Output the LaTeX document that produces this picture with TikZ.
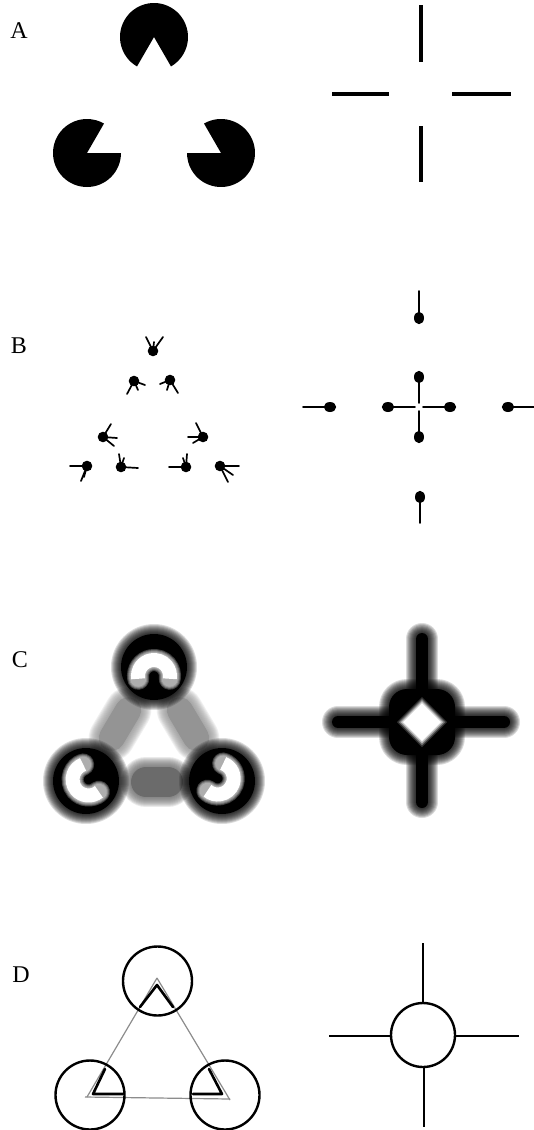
\documentclass[tikz,border=0pt]{standalone}
\usepackage{fontspec}
\setmainfont{Liberation Serif}
\usetikzlibrary{calc}
\tikzset{
  panellabel/.style={font=\fontsize{24}{24}\selectfont, inner sep=0pt},
  bar/.style={line width=4.5pt},
  vec/.style={line width=1.7pt, line cap=round},
  thinedge/.style={draw=black!45, line width=1.2pt},
  thickedge/.style={line width=2.6pt, line cap=round, line join=round},
  ringline/.style={line width=2.4pt},
  crossline/.style={line width=2pt}
}
% soft (blurred) stroke: #1 options, #2 core width, #3 path
\newcommand\softstroke[3]{%
  \foreach \e in {2,4,...,20}{%
    \pgfmathsetmacro\mylw{#2+\e}%
    \draw[#1,line width=\mylw pt,opacity=0.14,line cap=round,line join=round] #3;}%
  \draw[#1,line width=#2 pt,line cap=round,line join=round] #3;}
% soft (blurred) fill: #1 options, #2 path
\newcommand\softfill[2]{%
  \foreach \e in {2,4,...,20}{%
    \draw[#1,line width=\e pt,opacity=0.14,line join=round] #2;}%
  \fill[#1] #2;}
% soft white stroke: #1 core width, #2 path
\newcommand\softwhite[2]{%
  \foreach \e in {2,4,...,8}{%
    \pgfmathsetmacro\mylw{#1+\e}%
    \draw[white,line width=\mylw pt,opacity=0.25,line cap=round] #2;}%
  \draw[white,line width=#1 pt,line cap=butt] #2;}
% vector-field point: x, y, list of dx/dy
\newcommand\fieldpt[3]{%
  \fill (#1,#2) circle (5.3);
  \foreach \dx/\dy in {#3}{\draw[vec] (#1,#2) -- ++(\dx,\dy);}}
\begin{document}
\begin{tikzpicture}[x=1pt,y=-1pt]
\useasboundingbox (0,0) rectangle (534,1130);
\fill[white] (0,0) rectangle (534,1130);

% ---------- labels
\node[panellabel] (labA) at (19,31) {A};
\node[panellabel] (labB) at (19,346) {B};
\node[panellabel] (labC) at (20,660) {C};
\node[panellabel] (labD) at (21,975) {D};

% ---------- A: Kanizsa pacmen
\fill (154,37) -- ++(120:34) arc[start angle=120,end angle=420,radius=34] -- cycle;
\fill (87,153) -- ++(0:34) arc[start angle=0,end angle=300,radius=34] -- cycle;
\fill (221,153) -- ++(240:34) arc[start angle=240,end angle=540,radius=34] -- cycle;
% A: cross of bars
\draw[bar] (421,5) -- (421,62);
\draw[bar] (421,126) -- (421,182);
\draw[bar] (332,94) -- (389,94);
\draw[bar] (452,94) -- (511,94);

% ---------- B left: vector field
\fieldpt{153}{351}{-7/-14,10/-14,1/-9}
\fieldpt{134}{381}{-7/13,11/4,4/9}
\fieldpt{170}{380}{-10/4,8/13,-3/10}
\fieldpt{103}{437}{8/-13,14/1,11/9}
\fieldpt{203}{437}{-7/-14,-15/0,-10/6}
\fieldpt{87}{466}{-17/0,-6/15,-3/11}
\fieldpt{121}{467}{-2/-13,17/1,3/-9}
\fieldpt{186}{467}{1/-13,-17/0,-3/-9}
\fieldpt{220}{466}{19/0,8/16,13/9}

% ---------- B right: arrows
\fill (419,318) ellipse[x radius=5,y radius=6.2];
\draw[vec] (419,291) -- (419,318);
\fill (419,377) ellipse[x radius=5,y radius=6.2];
\draw[vec] (419,403) -- (419,377);
\fill (419,437) ellipse[x radius=5,y radius=6.2];
\draw[vec] (419,411) -- (419,437);
\fill (388,407) ellipse[x radius=6.2,y radius=5];
\draw[vec] (415,407) -- (388,407);
\fill (450,407) ellipse[x radius=6.2,y radius=5];
\draw[vec] (423,407) -- (450,407);
\fill (330,407) ellipse[x radius=6.2,y radius=5];
\draw[vec] (303,407) -- (330,407);
\fill (508,407) ellipse[x radius=6.2,y radius=5];
\draw[vec] (534,407) -- (508,407);
\fill (420,497) ellipse[x radius=5,y radius=6.2];
\draw[vec] (420,523) -- (420,497);

% ---------- C left: blurred response
\softstroke{black!42}{26}{(128.2,710.2) -- (111.8,737.8)}
\softstroke{black!42}{26}{(179.8,710.2) -- (196.2,737.8)}
\softstroke{black!58}{30}{(146,782) -- (168,782)}
\softfill{black}{(154,667) circle (33)}
\softfill{black}{(86,781) circle (33)}
\softfill{black}{(222,781) circle (33)}
\softwhite{14}{($(154,676)+(170:16)$) arc[start angle=170,end angle=370,radius=16]}
\softwhite{14}{($(88.6,779.5)+(50:16)$) arc[start angle=50,end angle=250,radius=16]}
\softwhite{14}{($(217.7,778.5)+(290:16)$) arc[start angle=290,end angle=490,radius=16]}

% ---------- C right: blurred cross
\softstroke{black}{12}{(422,639) -- (422,802)}
\softstroke{black}{12}{(338,722) -- (504,722)}
\softfill{black,rounded corners=18pt}{(389,689) rectangle (455,755)}
\foreach \h/\o in {25/0.2,23/0.35,21/0.6}{%
  \fill[white,opacity=\o] (422,722-\h) -- (422+\h,722) -- (422,722+\h) -- (422-\h,722) -- cycle;}
\fill[white] (422,703) -- (441,722) -- (422,741) -- (403,722) -- cycle;

% ---------- D left: contours
\draw[thinedge] (157,978) -- (87,1097);
\draw[thinedge] (157,978) -- (230,1100);
\draw[thinedge] (85,1097) -- (230,1099);
\draw[thickedge] (140,1007) -- (157,985) -- (173,1007);
\draw[thickedge] (105,1069) -- (93,1094) -- (123,1094);
\draw[thickedge] (209,1069) -- (222,1094) -- (193,1094);
\draw[ringline] (157.5,981) circle (34.5);
\draw[ringline] (90,1095) circle (34.5);
\draw[ringline] (225,1095) circle (34.5);

% ---------- D right: circle with cross
\draw[ringline] (423,1035) circle (32);
\draw[crossline] (423,943) -- (423,1003);
\draw[crossline] (424,1067) -- (424,1127);
\draw[crossline] (329,1036) -- (391,1036);
\draw[crossline] (455,1036) -- (519,1036);
\end{tikzpicture}
\end{document}
